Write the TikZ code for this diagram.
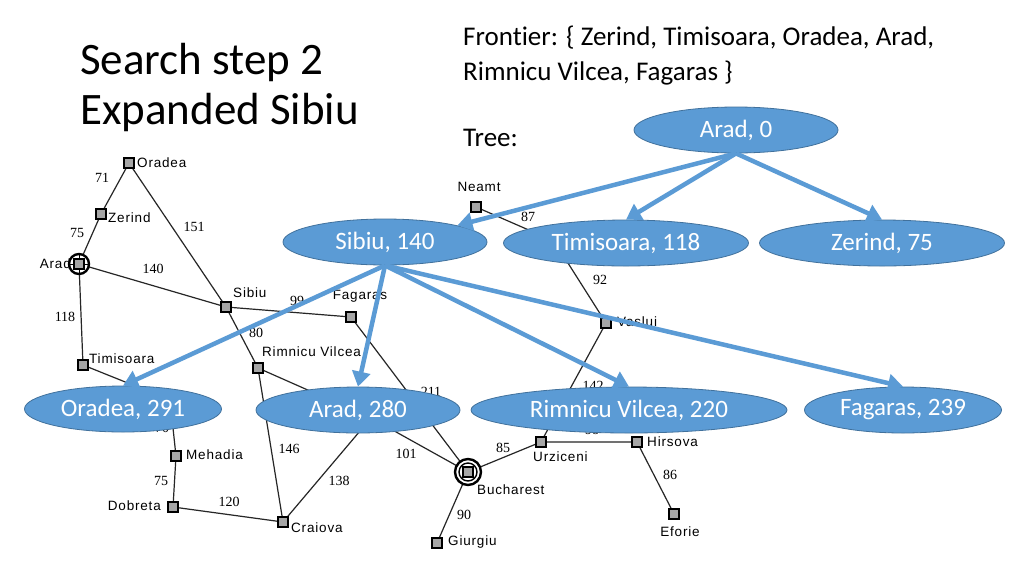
\documentclass[tikz,border=0pt]{standalone}
\usepackage{fontspec}
\setmainfont[Ligatures=NoCommon]{Carlito}
\newfontfamily\mapfont[LetterSpace=6]{Liberation Sans}
\newfontfamily\distfont{Liberation Serif}
\usetikzlibrary{shapes.geometric, arrows.meta}
\definecolor{treeblue}{HTML}{5B9BD5}
\definecolor{treeline}{HTML}{41719C}

\begin{document}
\begin{tikzpicture}[x=1pt, y=-1pt,
	road/.style={line width=1.2pt, black!85},
	city/.style={draw, line width=1.6pt, fill=black!35, minimum size=10pt, inner sep=0pt},
	town/.style={font=\mapfont\fontsize{13.5}{13.5}\selectfont, inner sep=0pt},
	dist/.style={font=\distfont\fontsize{14}{14}\selectfont, inner sep=0pt},
	state/.style={ellipse, draw=treeline, line width=0.8pt, fill=treeblue, text=white,
		font=\fontsize{25}{25}\selectfont, minimum height=46pt, inner sep=0pt},
	expand/.style={treeblue, line width=4.5pt, -{Triangle[width=18pt, length=15pt]}},
	slide/.style={anchor=base west, inner sep=0pt}]
				\fill[white] (0,0) rectangle (1024,576);
				
				\coordinate (lugoj) at (170,400);
				\coordinate (pitesti) at (371,418);
				\coordinate (iasi) at (554,241);
				\node[city] (oradea) at (129,163) {};
				\node[city] (zerind) at (101,214) {};
				\node[city] (arad) at (79,264) {};
				\node[city] (timisoara) at (83,365) {};
				\node[city] (sibiu) at (226,307) {};
				\node[city] (fagaras) at (351,317) {};
				\node[city] (rimnicu) at (258,368) {};
				\node[city] (mehadia) at (176,456) {};
				\node[city] (dobreta) at (173,507) {};
				\node[city] (craiova) at (283,522) {};
				\node[city] (bucharest) at (468,472) {};
				\node[city] (giurgiu) at (437,543) {};
				\node[city] (urziceni) at (541,442) {};
				\node[city] (hirsova) at (637,442) {};
				\node[city] (eforie) at (674,514) {};
				\node[city] (vaslui) at (606,323) {};
				\node[city] (neamt) at (476,207) {};
				
				\draw[road] (oradea) -- (zerind) -- (arad) -- (timisoara) -- (lugoj) -- (mehadia) -- (dobreta) -- (craiova) -- (pitesti) -- (bucharest) -- (giurgiu);
				\draw[road] (oradea) -- (sibiu) -- (arad);
				\draw[road] (sibiu) -- (fagaras) -- (bucharest) -- (urziceni) -- (hirsova) -- (eforie);
				\draw[road] (sibiu) -- (rimnicu) -- (pitesti);
				\draw[road] (rimnicu) -- (craiova);
				\draw[road] (urziceni) -- (vaslui) -- (iasi) -- (neamt);
				
				\draw[line width=2.4pt, fill=white] (arad) circle (10pt);
				\draw[line width=0.8pt] ([xshift=-10pt]arad.center) -- ([xshift=10pt]arad.center) ([yshift=-10pt]arad.center) -- ([yshift=10pt]arad.center);
				\draw[line width=2.4pt, fill=white] (bucharest) circle (13pt);
				\draw[line width=1.4pt] (bucharest) circle (9pt);
				\foreach \c in {oradea, zerind, arad, timisoara, sibiu, fagaras, rimnicu, mehadia, dobreta, craiova, bucharest, giurgiu, urziceni, hirsova, eforie, vaslui, neamt}
					\node[city] at (\c) {};
				
				\node[town, anchor=west] (lOradea) at (137,163) {Oradea};
				\node[town, anchor=west] (lZerind) at (108,218) {Zerind};
				\node[town, anchor=east] (lArad) at (71,264) {Arad};
				\node[town, anchor=west] (lTimisoara) at (89,359) {Timisoara};
				\node[town, anchor=west] (lSibiu) at (233,293) {Sibiu};
				\node[town] (lFagaras) at (360,296) {Fagaras};
				\node[town, anchor=west] (lRimnicu) at (262,352) {Rimnicu Vilcea};
				\node[town, anchor=west] (lMehadia) at (186,455) {Mehadia};
				\node[town, anchor=east] (lDobreta) at (161,506) {Dobreta};
				\node[town, anchor=west] (lCraiova) at (291,528) {Craiova};
				\node[town, anchor=west] (lBucharest) at (477,490) {Bucharest};
				\node[town, anchor=west] (lGiurgiu) at (448,542) {Giurgiu};
				\node[town, anchor=west] (lUrziceni) at (533,457) {Urziceni};
				\node[town, anchor=west] (lHirsova) at (647,442) {Hirsova};
				\node[town] (lEforie) at (680,532) {Eforie};
				\node[town, anchor=west] (lVaslui) at (617,322) {Vaslui};
				\node[town] (lNeamt) at (479,187) {Neamt};
				
				\node[dist] (d71) at (102,178) {71};
				\node[dist] (d75a) at (77,233) {75};
				\node[dist] (d151) at (194,227) {151};
				\node[dist] (d140) at (153,269) {140};
				\node[dist] (d118) at (65,317) {118};
				\node[dist] (d99) at (297,301) {99};
				\node[dist] (d80) at (256,333) {80};
				\node[dist] (d70) at (162,428) {70};
				\node[dist] (d75b) at (161,481) {75};
				\node[dist] (d120) at (229,502) {120};
				\node[dist] (d146) at (289,449) {146};
				\node[dist] (d138) at (339,481) {138};
				\node[dist] (d101) at (406,454) {101};
				\node[dist] (d211) at (431,392) {211};
				\node[dist] (d85) at (503,448) {85};
				\node[dist] (d90) at (464,515) {90};
				\node[dist] (d98) at (592,430) {98};
				\node[dist] (d86) at (670,475) {86};
				\node[dist] (d142) at (593,386) {142};
				\node[dist] (d87) at (528,217) {87};
				\node[dist] (d92) at (600,280) {92};
				
				\node[state, minimum width=204pt] (root) at (736,130) {Arad, 0};
				\node[state, minimum width=204pt] (sib) at (385,242) {Sibiu, 140};
				\node[state, minimum width=245pt] (tim) at (626,243) {Timisoara, 118};
				\node[state, minimum width=245pt] (zer) at (882,243) {Zerind, 75};
				\node[state, minimum width=197pt] (ora) at (123,409) {Oradea, 291};
				\node[state, minimum width=204pt] (ara) at (358,410) {Arad, 280};
				\node[state, minimum width=316pt] (rim) at (629,410) {Rimnicu Vilcea, 220};
				\node[state, minimum width=197pt] (fag) at (903,410) {Fagaras, 239};
				
				\draw[expand] (root.south) -- (sib.north east);
				\draw[expand] (root.south) -- (tim.north);
				\draw[expand] (root.south) -- (zer.north);
				\draw[expand] (sib.south) -- (ora.north);
				\draw[expand] (sib.south) -- (ara.north);
				\draw[expand] (sib.south) -- (rim.north);
				\draw[expand] (sib.south) -- (fag.north);
				
				\node[slide, font=\fontsize{45}{45}\selectfont] (title) at (80,74) {Search step 2};
				\node[slide, font=\fontsize{45}{45}\selectfont] (subtitle) at (80,124) {Expanded Sibiu};
				\node[slide, font=\fontsize{27}{27}\selectfont] (frontier) at (463,45) {Frontier: \{ Zerind, Timisoara, Oradea, Arad,};
				\node[slide, font=\fontsize{27}{27}\selectfont] (frontier2) at (463,80) {Rimnicu Vilcea, Fagaras \}};
				\node[slide, font=\fontsize{27}{27}\selectfont] (tree) at (463,146) {Tree:};
			\end{tikzpicture}
\end{document}
